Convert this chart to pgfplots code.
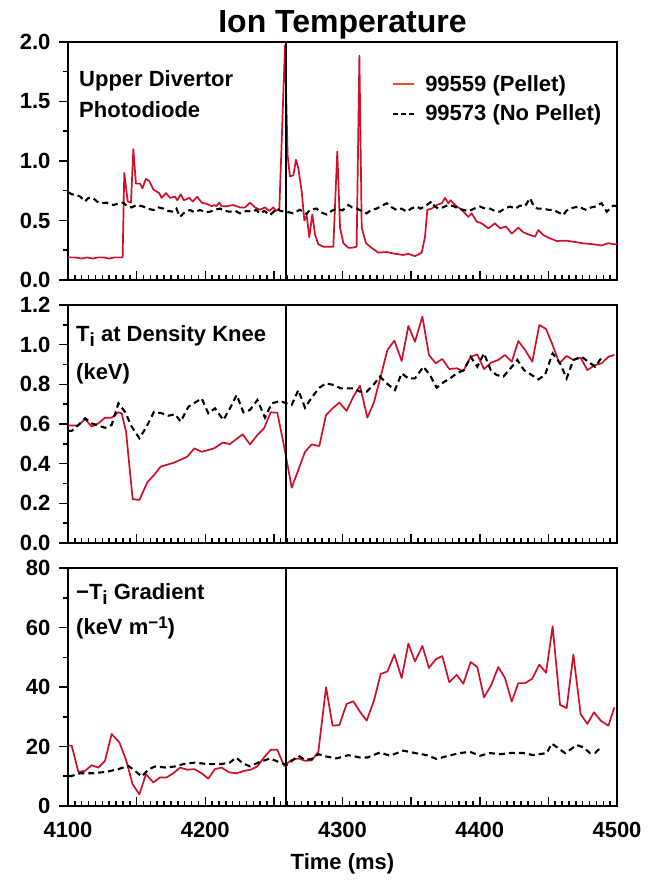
\documentclass[border=0pt]{standalone}
\usepackage{fontspec}
\setmainfont{Liberation Sans}
\usepackage{graphicx}
\usepackage{pgfplots}
\pgfplotsset{compat=1.18}

\definecolor{pelletred}{HTML}{D0102B}
\definecolor{legendred}{HTML}{F04A24}

\newcommand\labfont{\fontsize{22}{26}\selectfont\bfseries}
\newcommand\subi{\raisebox{-5pt}{\fontsize{19}{19}\selectfont i}}

\pgfplotsset{
  panel/.style={
    scale only axis, width=549pt, height=238pt,
    xmin=4100, xmax=4500,
    axis line style={line width=2.4pt},
    xtick={4100,4150,...,4500},
    xticklabels={},
    minor x tick num=9,
    minor y tick num=1,
    xtick pos=bottom, ytick pos=left,
    xtick align=inside, ytick align=outside,
    major tick length=9pt, minor tick length=5pt,
    tick style={black, line width=1.5pt},
    tick label style={font=\labfont},
    yticklabel style={xshift=-5pt},
    xticklabel style={yshift=-13pt},
    /pgf/number format/assume math mode=true,
  },
  pellet/.style={pelletred, line width=1.7pt, line join=round},
  nopellet/.style={black, line width=2.1pt, dash pattern=on 6pt off 4pt},
  shot/.style={black, line width=1.8pt, forget plot},
}

\begin{document}
\begin{tikzpicture}
\path[use as bounding box] (-68pt,42pt) rectangle (579pt,-840pt);

% ---------------- Upper divertor photodiode ----------------
\begin{axis}[panel, at={(0pt,0pt)}, anchor=north west,
  ymin=0, ymax=2, ytick={0,0.5,...,2.0},
  yticklabel style={/pgf/number format/.cd, fixed, fixed zerofill, precision=1},
  legend style={at={(0.59,0.868)}, anchor=north west, draw=none, fill=none,
    inner sep=0pt, font=\labfont, row sep=8pt},
  legend cell align=left]
\addplot[pellet, legend image code/.code={\draw[legendred, line width=2.2pt] (0pt,0pt) -- (21pt,0pt); \path (29pt,0pt);}] table {
4100 0.19
4105 0.19
4110 0.18
4114 0.19
4118 0.18
4122 0.19
4126 0.19
4130 0.18
4134 0.19
4139.8 0.19
4141.0 0.90
4143.5 0.66
4145.9 0.65
4147.6 1.10
4149.5 0.81
4152.5 0.81
4154.2 0.77
4156.8 0.85
4159.3 0.83
4162.2 0.76
4166.5 0.73
4168.2 0.69
4171.4 0.73
4174.3 0.69
4178.0 0.70
4179.7 0.67
4182.1 0.72
4184.5 0.67
4188.4 0.69
4190.8 0.66
4194.2 0.70
4197.4 0.65
4201.0 0.64
4204.7 0.62
4206.5 0.63
4208.0 0.62
4210.3 0.65
4212.0 0.62
4215.6 0.62
4220.5 0.63
4225.3 0.61
4229.0 0.61
4232.6 0.65
4236.3 0.61
4239.9 0.59
4243.5 0.61
4246.7 0.58
4249.6 0.61
4251.6 0.58
4254.0 0.60
4258.1 1.97
4260.0 1.05
4261.7 0.87
4264.2 0.88
4266.1 1.01
4267.8 0.94
4270.3 0.74
4272.2 0.50
4273.9 0.54
4275.8 0.36
4278.0 0.55
4280.0 0.38
4282.4 0.30
4286.0 0.28
4293.3 0.28
4296.2 1.08
4298.2 0.44
4300.6 0.31
4304.3 0.27
4306.7 0.27
4310.3 0.28
4312.3 1.885
4314.0 0.44
4317.1 0.31
4321.2 0.27
4326.1 0.23
4332.2 0.235
4338.3 0.22
4344.3 0.21
4348.0 0.22
4352.8 0.20
4357.7 0.23
4360.1 0.36
4361.8 0.59
4365.0 0.60
4368.6 0.63
4372.3 0.645
4374.7 0.69
4377.1 0.645
4378.8 0.67
4382.0 0.63
4386.8 0.59
4391.7 0.53
4394.1 0.56
4397.8 0.49
4401.4 0.476
4406.3 0.434
4411.1 0.476
4414.8 0.434
4419.1 0.45
4423.3 0.39
4428.1 0.44
4431.8 0.40
4436.6 0.378
4440.3 0.364
4442.7 0.42
4446.3 0.378
4451.2 0.35
4456.0 0.328
4463.3 0.33
4470.6 0.317
4475.5 0.308
4482.8 0.30
4488.8 0.29
4493.7 0.31
4497.3 0.30
4500 0.30
};
\addlegendentry{99559 (Pellet)}
\addplot[nopellet, legend image code/.code={\draw[black, line width=2.2pt, dash pattern=on 5pt off 3pt] (0pt,0pt) -- (21pt,0pt); \path (29pt,0pt);}] table {
4100.2 0.737
4103 0.72
4106.3 0.714
4109 0.70
4112.4 0.66
4115 0.69
4118.5 0.687
4121 0.66
4124.5 0.645
4128 0.65
4133.0 0.63
4136 0.64
4140.3 0.65
4143 0.62
4146.4 0.61
4150 0.63
4154.9 0.617
4158 0.60
4162.2 0.588
4166 0.61
4169.5 0.60
4173 0.58
4176.7 0.574
4179 0.60
4181.6 0.53
4185 0.57
4188.9 0.588
4192 0.57
4196.2 0.588
4200 0.57
4203.5 0.574
4207 0.59
4210.8 0.60
4214 0.58
4218.0 0.574
4222 0.58
4225.3 0.56
4230 0.58
4235.0 0.574
4237 0.59
4239.9 0.56
4243 0.58
4247.2 0.546
4249.5 0.57
4252.0 0.60
4255 0.58
4259.3 0.574
4264 0.56
4269.0 0.59
4273.9 0.555
4276.3 0.59
4281.2 0.60
4284 0.57
4288.5 0.55
4292 0.58
4295.7 0.60
4300 0.585
4304.3 0.63
4307 0.61
4310.3 0.60
4314 0.58
4317.6 0.56
4321 0.59
4324.9 0.60
4328 0.62
4332.2 0.645
4336 0.61
4339.5 0.588
4343 0.60
4346.8 0.574
4350 0.60
4354.0 0.617
4357 0.60
4361.3 0.63
4365.0 0.66
4367 0.62
4369.8 0.60
4373 0.61
4377.1 0.63
4381 0.62
4384.4 0.60
4388 0.59
4391.7 0.578
4396 0.60
4400.2 0.617
4404 0.60
4407.5 0.60
4411 0.58
4414.8 0.574
4418 0.60
4422.0 0.617
4426 0.60
4429.3 0.625
4433 0.62
4436.6 0.687
4439.0 0.63
4442 0.60
4446.3 0.60
4450 0.59
4453.6 0.588
4457 0.57
4460.9 0.546
4463 0.58
4465.7 0.60
4469 0.61
4473.0 0.617
4475 0.60
4477.9 0.588
4481 0.61
4484.0 0.617
4486 0.63
4488.8 0.645
4490 0.62
4492.5 0.574
4495 0.60
4497.3 0.625
4500 0.62
};
\addlegendentry{99573 (No Pellet)}
\addplot[shot] coordinates {(4258.8,0) (4258.8,2)};
\node[anchor=north west, align=left, inner sep=0pt, font=\fontsize{22}{31}\selectfont\bfseries]
  at (rel axis cs:0,1) [xshift=11pt, yshift=-28pt] {Upper Divertor\\Photodiode};
\end{axis}

% ---------------- Ti at the density knee ----------------
\begin{axis}[panel, at={(0pt,-263pt)}, anchor=north west,
  ymin=0, ymax=1.2, ytick={0,0.2,...,1.2},
  yticklabel style={/pgf/number format/.cd, fixed, fixed zerofill, precision=1}]
\addplot[pellet] table {
4100 0.592
4102.7 0.592
4107.5 0.592
4112.4 0.625
4117.2 0.587
4122.1 0.603
4127.0 0.632
4131.8 0.632
4136.7 0.659
4139.1 0.654
4142.3 0.561
4147.1 0.222
4152.0 0.217
4157.8 0.306
4162.7 0.343
4167.5 0.385
4177.2 0.405
4186.9 0.435
4192.0 0.477
4197.4 0.46
4206.4 0.477
4212.7 0.506
4218.0 0.499
4227.3 0.548
4232.6 0.497
4238.0 0.545
4242.8 0.578
4247.7 0.659
4252.5 0.657
4257.4 0.49
4263.0 0.279
4267.8 0.368
4272.7 0.46
4277.5 0.497
4283.1 0.489
4288.0 0.645
4292.8 0.679
4297.7 0.708
4303.0 0.666
4307.9 0.738
4312.7 0.793
4318.1 0.632
4322.9 0.709
4327.8 0.839
4332.7 0.973
4337.8 1.02
4343.1 0.918
4348.0 1.094
4352.8 1.015
4358.2 1.141
4363.0 0.948
4367.9 0.906
4372.7 0.928
4377.8 0.877
4383.2 0.881
4388.0 0.867
4393.4 0.939
4398.2 0.951
4403.1 0.877
4408.2 0.909
4413.5 0.923
4418.4 0.948
4423.3 0.914
4428.1 1.018
4433.0 0.973
4438.3 0.914
4443.4 1.099
4448.3 1.079
4453.1 0.998
4458.0 0.906
4463.3 0.943
4468.2 0.923
4473.5 0.934
4478.4 0.872
4484.0 0.897
4488.8 0.906
4493.7 0.939
4498.1 0.948
};
\addplot[nopellet] table {
4100 0.565
4102.7 0.565
4107.5 0.595
4112.4 0.629
4117.2 0.603
4122.1 0.592
4127.0 0.581
4131.8 0.595
4136.7 0.704
4141.5 0.662
4146.4 0.587
4152.0 0.528
4157.3 0.587
4162.7 0.662
4168.2 0.654
4173.1 0.642
4178.0 0.649
4182.1 0.612
4187.7 0.687
4197.4 0.729
4202.2 0.654
4207.1 0.679
4213.2 0.62
4218.0 0.679
4222.9 0.746
4227.8 0.659
4232.6 0.671
4238.0 0.721
4243.5 0.632
4248.4 0.704
4254.5 0.716
4259.3 0.704
4263.0 0.696
4267.8 0.771
4272.7 0.682
4277.5 0.733
4283.1 0.783
4288.0 0.805
4293.3 0.797
4298.7 0.78
4307.9 0.78
4312.7 0.763
4317.6 0.763
4322.5 0.797
4327.3 0.839
4332.2 0.805
4338.2 0.771
4343.1 0.855
4348.0 0.83
4352.8 0.83
4358.9 0.889
4363.7 0.847
4368.6 0.783
4373.5 0.81
4378.3 0.83
4383.2 0.855
4388.5 0.872
4393.4 0.939
4398.2 0.889
4403.1 0.956
4408.0 0.872
4412.3 0.847
4417.2 0.839
4422.0 0.877
4427.4 0.923
4432.2 0.872
4437.8 0.847
4442.7 0.825
4447.5 0.847
4453.1 0.956
4458.5 0.906
4463.3 0.83
4468.2 0.923
4474.2 0.939
4479.1 0.914
4484.0 0.889
4488.8 0.934
};
\addplot[shot] coordinates {(4258.8,0) (4258.8,1.2)};
\node[anchor=north west, align=left, inner sep=0pt, font=\fontsize{22}{38}\selectfont\bfseries]
  at (rel axis cs:0,1) [xshift=8pt, yshift=-20pt] {T\subi{} at Density Knee\\(keV)};
\end{axis}

% ---------------- Ti gradient ----------------
\begin{axis}[panel, at={(0pt,-526pt)}, anchor=north west,
  ymin=0, ymax=80, ytick={0,20,...,80},
  xticklabels={4100,,4200,,4300,,4400,,4500},
  xlabel={Time (ms)}, xlabel style={font=\labfont, yshift=-9pt}]
\addplot[pellet] table {
4100.5 20.3
4102.7 20.3
4107.5 11.5
4112.4 11.8
4117.2 13.7
4122.1 12.9
4127.0 15.2
4131.8 24.2
4137.4 21.4
4142.3 15.5
4147.1 7.3
4152.0 3.9
4156.8 10.7
4162.2 7.9
4167.0 9.6
4171.9 9.6
4176.7 11.0
4181.6 12.9
4186.9 12.2
4192.0 12.4
4197.4 11.0
4202.2 9.2
4207.1 12.4
4211.9 12.9
4217.5 11.3
4222.9 11.0
4228.2 11.8
4233.1 12.2
4237.9 13.3
4242.8 16.3
4247.7 18.9
4252.5 18.9
4257.4 13.5
4263.0 15.5
4267.8 16.0
4272.7 15.2
4277.5 15.3
4282.4 18.2
4288.0 39.9
4292.8 27.0
4297.7 27.2
4303.0 34.3
4307.9 35.2
4312.7 31.7
4317.6 28.7
4322.9 35.4
4327.8 44.4
4332.7 45.2
4337.8 50.9
4343.1 43.0
4348.0 54.6
4352.8 48.6
4358.2 53.8
4363.0 46.4
4367.9 49.3
4372.7 50.4
4377.8 41.6
4383.2 44.1
4388.0 41.1
4393.4 48.4
4398.2 46.7
4403.1 36.5
4408.2 40.5
4413.5 46.7
4418.4 43.0
4423.3 35.1
4428.1 41.3
4433.0 41.3
4438.3 42.8
4443.4 47.5
4448.3 44.8
4453.1 60.4
4458.5 34.0
4463.3 32.9
4468.2 50.9
4473.5 30.9
4478.4 27.6
4483.2 31.5
4488.1 28.7
4493.7 27.0
4498.1 33.2
};
\addplot[nopellet] table {
4100.5 10.1
4102.7 10.1
4108.7 11.0
4118.5 11.0
4128.2 11.5
4136.7 12.4
4144.0 13.5
4148.8 11.8
4153.7 9.9
4158.5 12.2
4163.4 13.3
4171.9 12.9
4178.0 13.3
4184.0 14.1
4192.5 14.6
4201.0 14.1
4211.9 14.1
4218.0 14.6
4222.4 16.3
4227.3 14.4
4232.6 13.3
4238.7 14.6
4247.2 16.0
4254.5 14.6
4259.3 13.8
4267.8 16.9
4272.7 15.5
4277.5 15.8
4282.4 17.4
4288.5 16.6
4295.7 16.0
4304.2 17.1
4312.7 16.3
4318.1 16.3
4327.3 18.0
4334.6 16.9
4344.3 18.6
4352.8 17.8
4361.3 17.1
4368.6 15.8
4377.1 16.9
4385.6 17.8
4392.9 18.2
4400.2 16.9
4407.5 17.8
4414.8 17.4
4422.0 17.8
4431.8 17.8
4439.0 17.1
4448.8 17.8
4452.4 21.0
4457.3 19.4
4462.1 17.8
4465.8 18.9
4470.6 20.5
4475.5 19.7
4480.3 17.8
4484.0 17.8
4487.6 19.4
};
\addplot[shot] coordinates {(4258.8,0) (4258.8,80)};
\node[anchor=north west, align=left, inner sep=0pt, font=\fontsize{22}{35}\selectfont\bfseries]
  at (rel axis cs:0,1) [xshift=8pt, yshift=-15pt]
  {\char"2212T\subi{} Gradient\\(keV m\raisebox{6pt}{\fontsize{17}{17}\selectfont\char"2212 1})};
\end{axis}

\node[anchor=base, font=\fontsize{32}{36}\selectfont\bfseries] at (274.5pt,9pt) {Ion Temperature};
\end{tikzpicture}
\end{document}
